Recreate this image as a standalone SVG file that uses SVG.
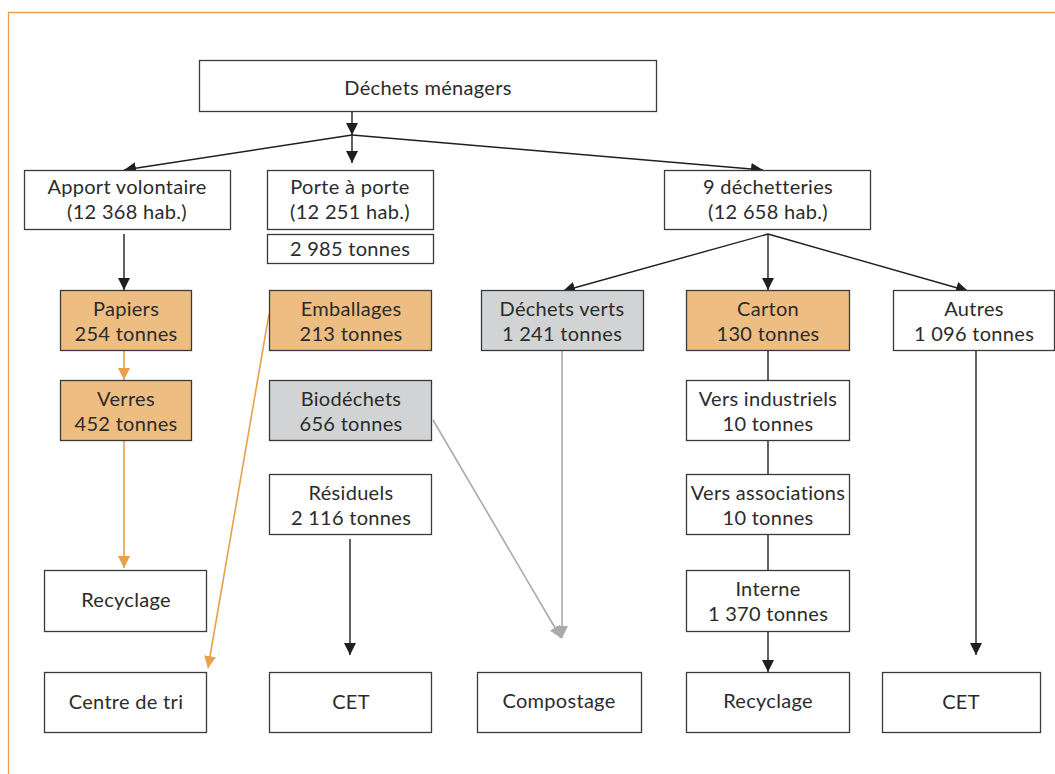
<svg xmlns="http://www.w3.org/2000/svg" width="1055" height="774" viewBox="0 0 1055 774">
<defs>
<style>
.box{fill:#ffffff;stroke:#3a3a3a;stroke-width:1.3}
.or{fill:#EDBD82}
.gr{fill:#D1D3D4}
text{font-family:Lato,"Liberation Sans",sans-serif;font-size:20px;letter-spacing:0.3px;fill:#2b2b2b;text-anchor:middle}
.k{stroke:#1f1f1f;stroke-width:1.4;fill:none}
.o{stroke:#E8A04A;stroke-width:1.6;fill:none}
.g{stroke:#AAAAAA;stroke-width:1.6;fill:none}
</style>
<marker id="ak" markerUnits="userSpaceOnUse" markerWidth="12" markerHeight="12" refX="12" refY="6" orient="auto"><path d="M0,0 L12,6 L0,12 z" fill="#1f1f1f"/></marker>
<marker id="ao" markerUnits="userSpaceOnUse" markerWidth="12" markerHeight="12" refX="12" refY="6" orient="auto"><path d="M0,0 L12,6 L0,12 z" fill="#E8A04A"/></marker>
<marker id="ag" markerUnits="userSpaceOnUse" markerWidth="12" markerHeight="12" refX="12" refY="6" orient="auto"><path d="M0,0 L12,6 L0,12 z" fill="#AAAAAA"/></marker>
</defs>
<rect width="1055" height="774" fill="#ffffff"/>
<path d="M8.5,780 V12.5 H1060" fill="none" stroke="#E8A04A" stroke-width="1.3"/>

<g id="connectors">
<line class="k" x1="352" y1="111" x2="352" y2="135" marker-end="url(#ak)"/>
<line class="k" x1="352" y1="135" x2="124" y2="170" marker-end="url(#ak)"/>
<line class="k" x1="352" y1="135" x2="352" y2="163" marker-end="url(#ak)"/>
<line class="k" x1="352" y1="135" x2="763" y2="170" marker-end="url(#ak)"/>
<line class="k" x1="124" y1="234" x2="124" y2="290" marker-end="url(#ak)"/>
<line class="o" x1="124" y1="350" x2="124" y2="380" marker-end="url(#ao)"/>
<line class="o" x1="124" y1="440" x2="124" y2="568" marker-end="url(#ao)"/>
<line class="o" x1="269" y1="314" x2="208" y2="668" marker-end="url(#ao)"/>
<line class="k" x1="350" y1="539" x2="350" y2="655" marker-end="url(#ak)"/>
<line class="g" x1="433" y1="420" x2="561" y2="638" marker-end="url(#ag)"/>
<line class="g" x1="562" y1="350" x2="562" y2="638" marker-end="url(#ag)"/>
<line class="k" x1="768" y1="234" x2="563" y2="291" marker-end="url(#ak)"/>
<line class="k" x1="768" y1="234" x2="768" y2="290" marker-end="url(#ak)"/>
<line class="k" x1="768" y1="234" x2="968" y2="291" marker-end="url(#ak)"/>
<line class="k" x1="768" y1="350" x2="768" y2="380"/>
<line class="k" x1="768" y1="440" x2="768" y2="474"/>
<line class="k" x1="768" y1="534" x2="768" y2="570"/>
<line class="k" x1="768" y1="631" x2="768" y2="672" marker-end="url(#ak)"/>
<line class="k" x1="976" y1="350" x2="976" y2="655" marker-end="url(#ak)"/>
</g>

<g id="n-menagers"><rect class="box" x="199.5" y="60.5" width="457" height="51"/><text x="428" y="95">Déchets ménagers</text></g>
<g id="n-apport"><rect class="box" x="24.5" y="170.5" width="206" height="59"/><text x="127" y="194">Apport volontaire</text><text x="127" y="219">(12 368 hab.)</text></g>
<g id="n-porte"><rect class="box" x="267.5" y="170.5" width="166" height="59"/><text x="350" y="194">Porte à porte</text><text x="350" y="219">(12 251 hab.)</text></g>
<g id="n-2985"><rect class="box" x="267.5" y="234.5" width="166" height="29"/><text x="350" y="256">2 985 tonnes</text></g>
<g id="n-dech"><rect class="box" x="664.5" y="170.5" width="206" height="59"/><text x="768" y="194">9 déchetteries</text><text x="768" y="219">(12 658 hab.)</text></g>

<g id="n-papiers"><rect class="box or" x="60.5" y="290.5" width="131" height="60"/><text x="126" y="316">Papiers</text><text x="126" y="341">254 tonnes</text></g>
<g id="n-verres"><rect class="box or" x="60.5" y="380.5" width="131" height="60"/><text x="126" y="406">Verres</text><text x="126" y="431">452 tonnes</text></g>
<g id="n-emb"><rect class="box or" x="269.5" y="290.5" width="162" height="60"/><text x="351" y="316">Emballages</text><text x="351" y="341">213 tonnes</text></g>
<g id="n-bio"><rect class="box gr" x="269.5" y="380.5" width="162" height="60"/><text x="351" y="406">Biodéchets</text><text x="351" y="431">656 tonnes</text></g>
<g id="n-resid"><rect class="box" x="269.5" y="474.5" width="162" height="60"/><text x="351" y="500">Résiduels</text><text x="351" y="525">2 116 tonnes</text></g>

<g id="n-verts"><rect class="box gr" x="481.5" y="290.5" width="162" height="60"/><text x="562" y="316">Déchets verts</text><text x="562" y="341">1 241 tonnes</text></g>
<g id="n-carton"><rect class="box or" x="686.5" y="290.5" width="163" height="60"/><text x="768" y="316">Carton</text><text x="768" y="341">130 tonnes</text></g>
<g id="n-autres"><rect class="box" x="893.5" y="290.5" width="161" height="60"/><text x="974" y="316">Autres</text><text x="974" y="341">1 096 tonnes</text></g>
<g id="n-indus"><rect class="box" x="686.5" y="380.5" width="163" height="60"/><text x="768" y="406">Vers industriels</text><text x="768" y="431">10 tonnes</text></g>
<g id="n-assoc"><rect class="box" x="686.5" y="474.5" width="163" height="60"/><text x="768" y="500">Vers associations</text><text x="768" y="525">10 tonnes</text></g>
<g id="n-interne"><rect class="box" x="686.5" y="570.5" width="163" height="61"/><text x="768" y="596">Interne</text><text x="768" y="621">1 370 tonnes</text></g>

<g id="n-recy1"><rect class="box" x="44.5" y="570.5" width="162" height="61"/><text x="126" y="607">Recyclage</text></g>
<g id="n-tri"><rect class="box" x="44.5" y="672.5" width="162" height="60"/><text x="126" y="709">Centre de tri</text></g>
<g id="n-cet1"><rect class="box" x="269.5" y="672.5" width="162" height="60"/><text x="351" y="709">CET</text></g>
<g id="n-compost"><rect class="box" x="477.5" y="672.5" width="164" height="60"/><text x="559" y="708">Compostage</text></g>
<g id="n-recy2"><rect class="box" x="686.5" y="672.5" width="163" height="60"/><text x="768" y="708">Recyclage</text></g>
<g id="n-cet2"><rect class="box" x="882.5" y="672.5" width="158" height="60"/><text x="961" y="709">CET</text></g>
</svg>
